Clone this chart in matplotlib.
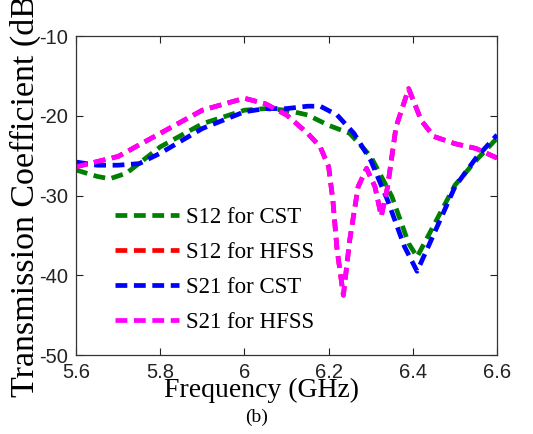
import matplotlib
matplotlib.use("Agg")
import matplotlib.pyplot as plt

# frequency grid (GHz) and transmission coefficient (dB)
freq_s12_cst = [5.60, 5.65, 5.68, 5.72, 5.80, 5.90, 6.00, 6.05, 6.10, 6.15, 6.20,
                6.25, 6.30, 6.35, 6.39, 6.41, 6.44, 6.50, 6.55, 6.60]
s12_cst = [-26.8, -27.6, -27.9, -27.2, -23.9, -21.0, -19.3, -19.1, -19.3, -19.9, -21.2,
           -22.2, -25.1, -30.1, -36.0, -37.7, -34.7, -28.7, -25.6, -22.8]

freq_s21_cst = [5.60, 5.65, 5.70, 5.75, 5.80, 5.90, 6.00, 6.05, 6.10, 6.15, 6.18,
                6.22, 6.26, 6.30, 6.34, 6.38, 6.41, 6.44, 6.50, 6.55, 6.60]
s21_cst = [-25.8, -26.2, -26.2, -26.0, -24.7, -21.6, -19.5, -19.1, -19.1, -18.8, -18.8,
           -19.9, -22.2, -25.6, -30.6, -36.4, -39.5, -36.0, -28.9, -25.3, -22.4]

freq_hfss = [5.60, 5.70, 5.80, 5.90, 6.00, 6.05, 6.10, 6.15, 6.18, 6.20, 6.21, 6.22,
             6.235, 6.25, 6.27, 6.29, 6.31, 6.325, 6.34, 6.36, 6.39, 6.42, 6.45,
             6.50, 6.55, 6.60]
s21_hfss = [-26.4, -25.1, -22.2, -19.3, -17.8, -18.5, -19.9, -22.2, -23.9, -26.4, -30.6,
            -36.8, -42.5, -35.6, -28.9, -26.6, -28.9, -32.6, -28.9, -21.4, -16.6, -20.6,
            -22.6, -23.5, -24.1, -25.3]
# S12 from HFSS lies under the S21 HFSS curve
s12_hfss = list(s21_hfss)

labels = ["S12 for CST", "S12 for HFSS", "S21 for CST", "S21 for HFSS"]
xticks = [5.6, 5.8, 6.0, 6.2, 6.4, 6.6]
xticklabels = ["5.6", "5.8", "6", "6.2", "6.4", "6.6"]
yticks = [-50, -40, -30, -20, -10]

plt.rcParams['font.family'] = ['Liberation Serif', 'DejaVu Serif']
plt.rcParams['axes.unicode_minus'] = False

fig = plt.figure(figsize=(5.33, 4.34), dpi=100)
ax = fig.add_axes([0.1426, 0.182, 0.79, 0.735])

style = dict(linewidth=3.4, dashes=(2.5, 1.4), dash_capstyle='butt')
ax.plot(freq_s12_cst, s12_cst, color='#008000', label=labels[0], **style)
ax.plot(freq_hfss, s12_hfss, color='#ff0000', label=labels[1], **style)
ax.plot(freq_s21_cst, s21_cst, color='#0000ff', label=labels[2], **style)
ax.plot(freq_hfss, s21_hfss, color='#ff00ff', label=labels[3], **style)

ax.set_xlim(5.6, 6.6)
ax.set_ylim(-50, -10)
ax.set_xticks(xticks)
ax.set_xticklabels(xticklabels)
ax.set_yticks(yticks)
ax.tick_params(direction='in', top=True, right=True, length=5, width=0.8,
               labelsize=14.5, colors='#222222')
ax.tick_params(axis='x', pad=6)
ax.tick_params(axis='y', pad=6)
for lbl in ax.get_xticklabels() + ax.get_yticklabels():
    lbl.set_family(['Liberation Sans', 'DejaVu Sans'])
for sp in ax.spines.values():
    sp.set_linewidth(0.9)
    sp.set_color('#333333')

leg = ax.legend(loc='upper left', bbox_to_anchor=(0.093, 0.463), frameon=False,
                fontsize=16.5, handlelength=2.8, handletextpad=0.3, labelspacing=0.6,
                borderpad=0, borderaxespad=0)
for t in leg.get_texts():
    t.set_family(['Liberation Serif', 'DejaVu Serif'])

fig.text(0.49, 0.085, "Frequency (GHz)", fontsize=20, ha='center', va='baseline')
fig.text(0.047, 0.085, "Transmission Coefficient (dB)", fontsize=24.5, rotation=90,
         ha='center', va='bottom')
fig.text(0.482, 0.028, "(b)", fontsize=14, ha='center', va='baseline')

fig.savefig("out.png", dpi=100)
